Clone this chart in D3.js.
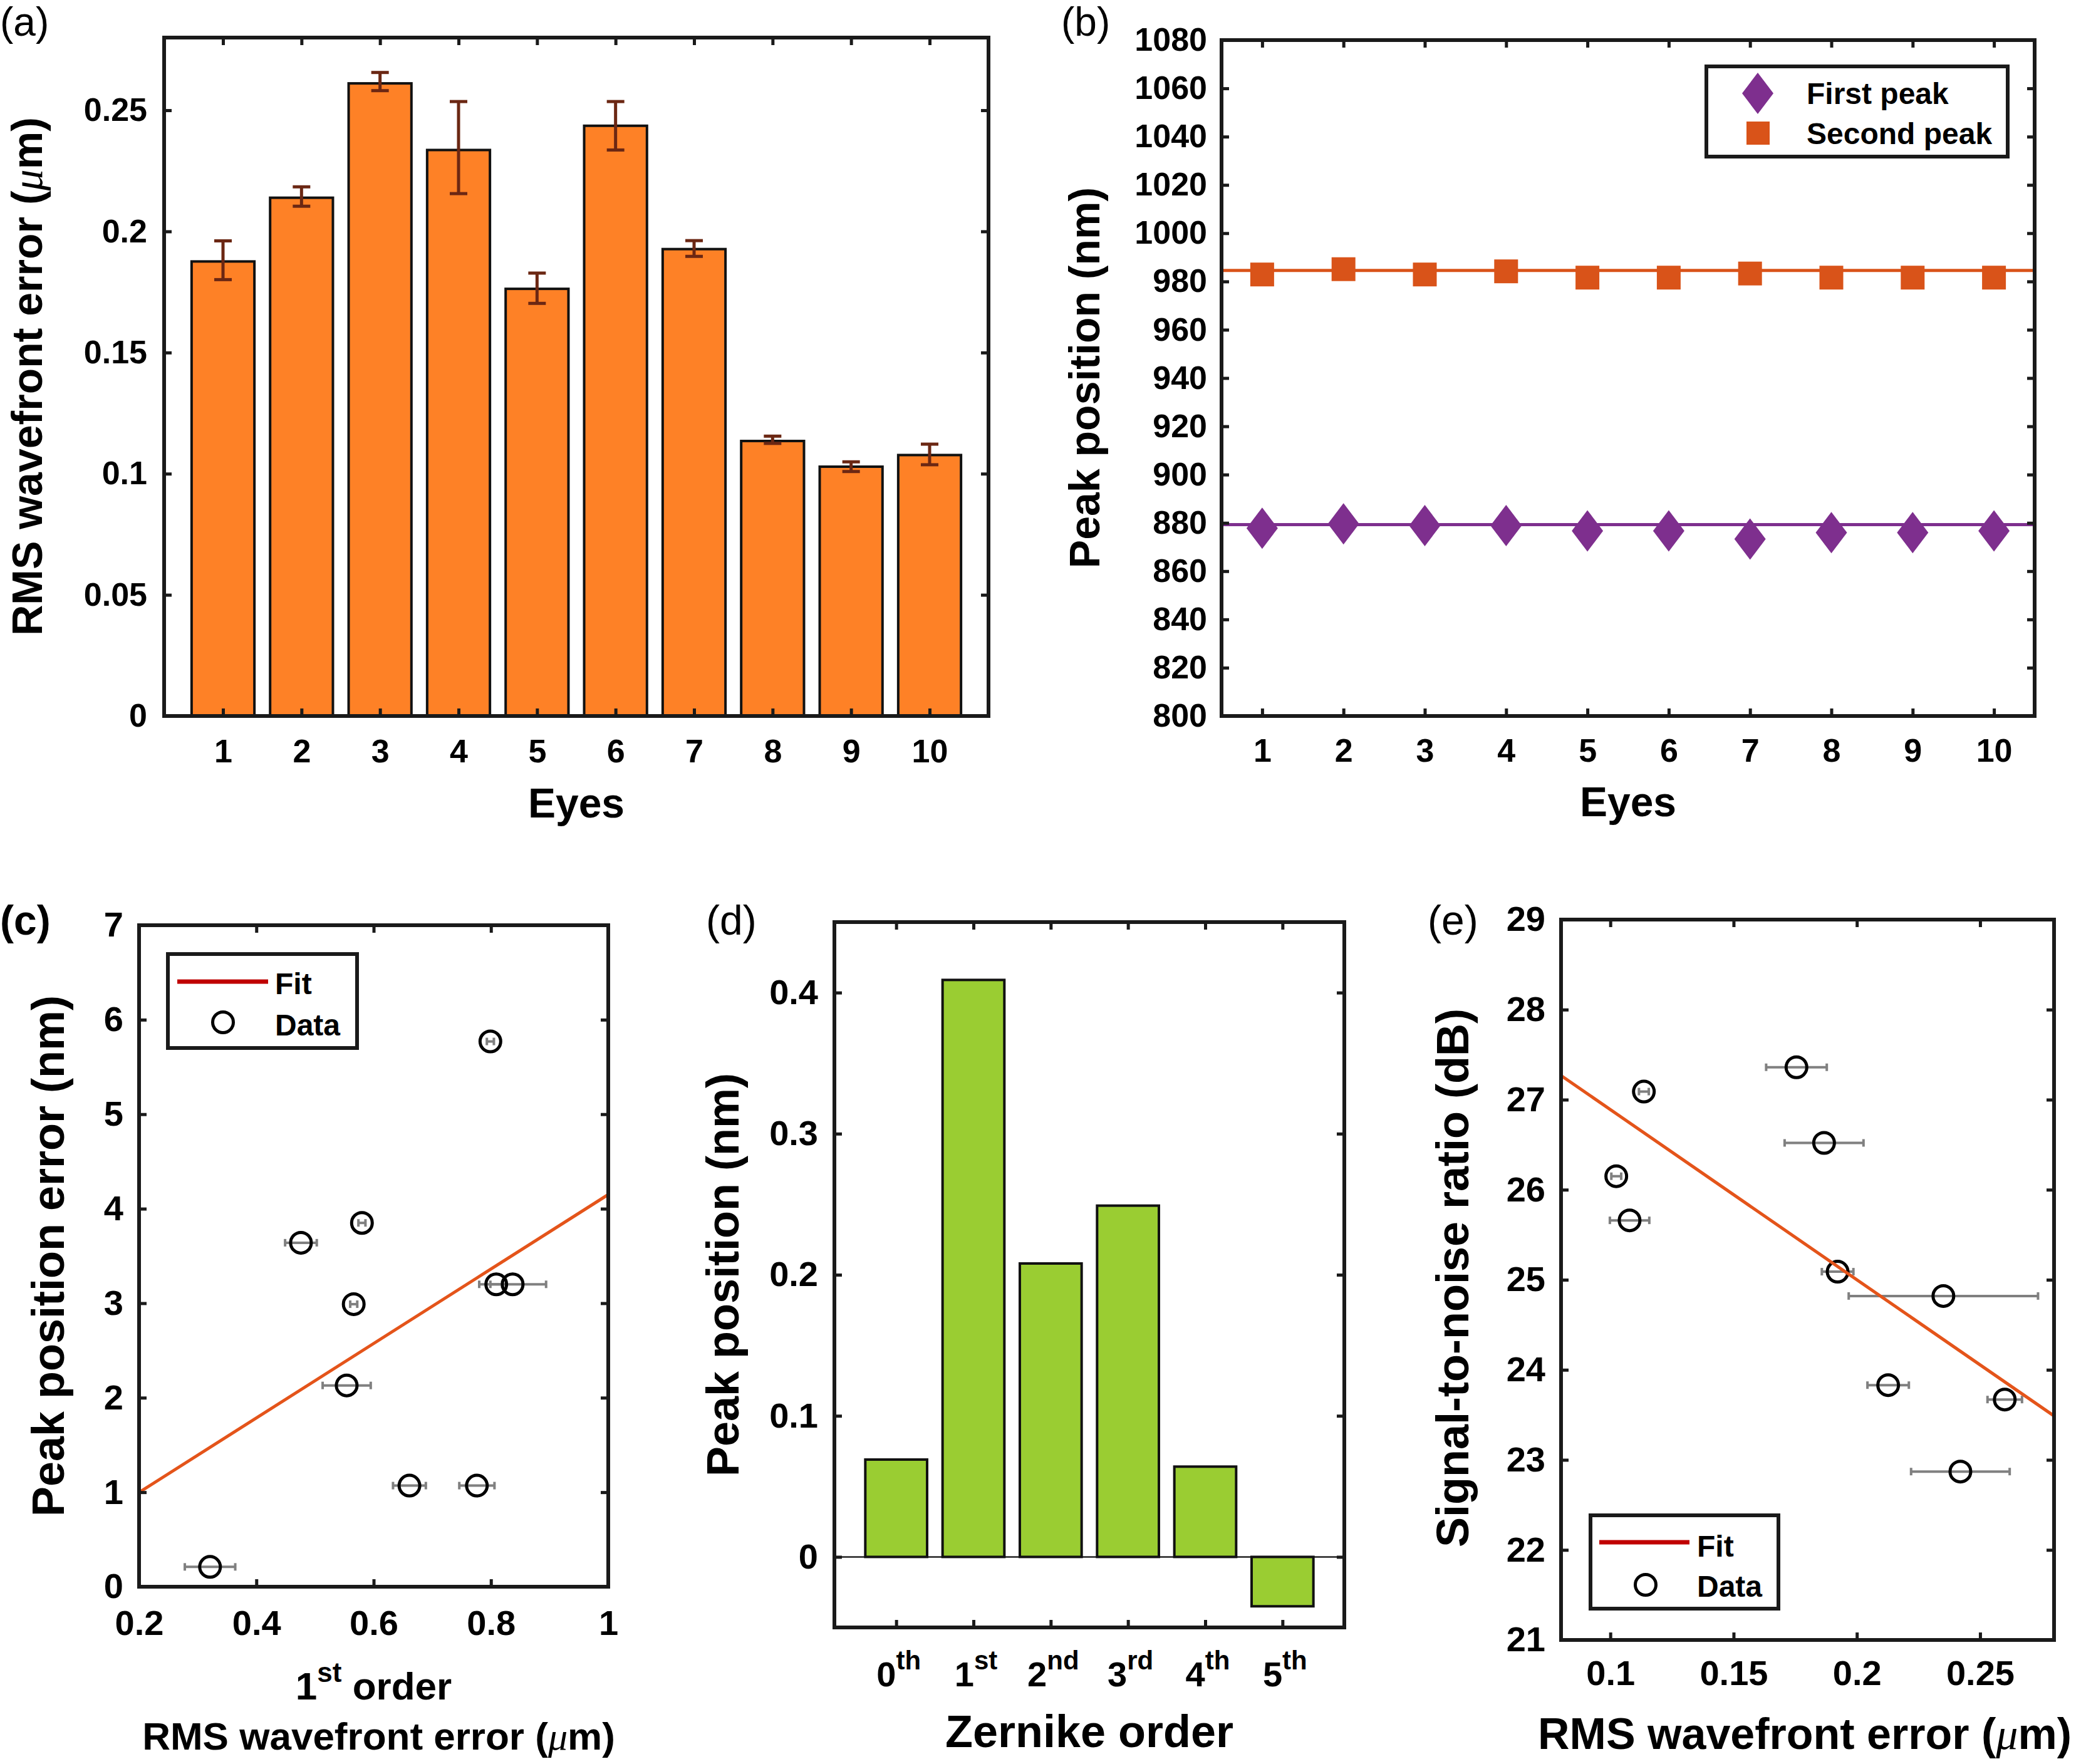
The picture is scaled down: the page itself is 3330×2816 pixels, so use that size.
<!DOCTYPE html>
<html><head><meta charset="utf-8">
<script src="https://cdn.jsdelivr.net/npm/d3@7"></script>
<style>body{margin:0;background:#fff}</style>
</head><body>
<svg id="c" width="3330" height="2816" xmlns="http://www.w3.org/2000/svg"></svg>
<script>
// ---------------- DATA ----------------
// (a)
const eyes = [1,2,3,4,5,6,7,8,9,10];
const rmsError = [0.1876,0.2139,0.2611,0.2336,0.1763,0.2436,0.1927,0.1135,0.1029,0.1077];
const rmsErrPlus = [0.0085,0.0045,0.0045,0.0200,0.0065,0.0100,0.0035,0.0020,0.0020,0.0045];
const rmsErrMinus = [0.0075,0.0035,0.0030,0.0180,0.0060,0.0100,0.0030,0.0010,0.0020,0.0040];
const aYTicks = [0,0.05,0.1,0.15,0.2,0.25];
// (b)
const firstPeak = [877.8,879.6,878.9,878.9,876.7,876.7,873.3,876.0,876.0,876.7];
const secondPeak = [982.9,985.1,982.9,984.2,981.6,981.6,983.3,981.6,981.6,981.6];
const firstPeakLine = 879.3;
const secondPeakLine = 984.6;
const bYTicks = [800,820,840,860,880,900,920,940,960,980,1000,1020,1040,1060,1080];
const bLegend = ["First peak","Second peak"];
// (c)
const cX = [0.321,0.476,0.580,0.566,0.554,0.799,0.809,0.837,0.661,0.776];
const cXErr = [0.043,0.027,0.006,0.006,0.041,0.006,0.010,0.057,0.028,0.030];
const cY = [0.21,3.64,3.85,2.99,2.13,5.77,3.20,3.20,1.07,1.07];
const cFitSlope = 3.94, cFitIntercept = 0.21;
const cXTicks = [0.2,0.4,0.6,0.8,1];
const cYTicks = [0,1,2,3,4,5,6,7];
// (d)
const zernikeOrder = ["0","1","2","3","4","5"];
const zernikeSuffix = ["th","st","nd","rd","th","th"];
const zernikeValue = [0.069,0.409,0.208,0.249,0.064,-0.035];
const dYTicks = [0,0.1,0.2,0.3,0.4];
// (e)
const eX = [0.1867,0.2127,0.2600,0.2351,0.1755,0.2420,0.1922,0.1136,0.1024,0.1078];
const eXErr = [0.016,0.0084,0.007,0.0384,0.0123,0.020,0.0064,0.002,0.002,0.008];
const eY = [26.52,23.83,23.67,24.82,27.36,22.87,25.09,27.09,26.15,25.66];
const eFitSlope = -18.9, eFitIntercept = 28.78;
const eXTicks = [0.1,0.15,0.2,0.25];
const eYTicks = [21,22,23,24,25,26,27,28,29];
const fitLegendLabels = ["Fit","Data"];

// ---------------- HELPERS ----------------
const FONT = '"Liberation Sans", Arial, Helvetica, sans-serif';
const SERIF = '"Liberation Serif", "Times New Roman", serif';
const svg = d3.select("#c");
svg.append("rect").attr("width",3330).attr("height",2816).attr("fill","#fff");
const TL = 12;

function panel(L,T,R,B,id){
  const g = svg.append("g").attr("transform",`translate(${L},${T})`);
  g.append("clipPath").attr("id",id).append("rect").attr("width",R-L).attr("height",B-T);
  return {g, W:R-L, H:B-T};
}
function txt(g, x, y, s, fs, opts={}){
  return g.append("text").attr("x",x).attr("y",y).text(s)
    .attr("font-family",FONT).attr("font-weight",opts.weight||"bold")
    .attr("font-size",fs).attr("text-anchor",opts.anchor||"middle").attr("fill","#000");
}
function addAxes(g,x,y,W,H,o){
  const b = g.append("g").attr("transform",`translate(0,${H})`)
    .call(d3.axisBottom(x).tickValues(o.xTicks).tickSizeInner(-TL).tickSizeOuter(0).tickPadding(o.xPad).tickFormat(o.xFmt||(d=>String(d))));
  const t = g.append("g")
    .call(d3.axisTop(x).tickValues(o.xTicks).tickSizeInner(-TL).tickSizeOuter(0).tickFormat(""));
  const l = g.append("g")
    .call(d3.axisLeft(y).tickValues(o.yTicks).tickSizeInner(-TL).tickSizeOuter(0).tickPadding(o.yPad).tickFormat(d=>String(d)));
  const r = g.append("g").attr("transform",`translate(${W},0)`)
    .call(d3.axisRight(y).tickValues(o.yTicks).tickSizeInner(-TL).tickSizeOuter(0).tickFormat(""));
  [b,t,l,r].forEach(a=>{
    a.select(".domain").remove();
    a.selectAll(".tick line").attr("stroke","#1a1a1a").attr("stroke-width",5);
    a.selectAll("text").attr("font-family",FONT).attr("font-weight","bold").attr("font-size",o.fs).attr("fill","#000");
  });
}
function frame(g,W,H){
  g.append("rect").attr("width",W).attr("height",H).attr("fill","none").attr("stroke","#1a1a1a").attr("stroke-width",6);
}
function yLabel(g, x, y, parts, fs){
  const t = g.append("text").attr("transform",`translate(${x},${y}) rotate(-90)`)
    .attr("text-anchor","middle").attr("font-family",FONT).attr("font-weight","bold").attr("font-size",fs).attr("fill","#000");
  parts.forEach(p=>{ const s=t.append("tspan").text(p.t); if(p.mu){s.attr("font-family",SERIF).attr("font-style","italic").attr("font-weight","normal");} });
  return t;
}
function xLabel(g, x, y, parts, fs){
  const t = g.append("text").attr("x",x).attr("y",y)
    .attr("text-anchor","middle").attr("font-family",FONT).attr("font-weight","bold").attr("font-size",fs).attr("fill","#000");
  parts.forEach(p=>{ const s=t.append("tspan").text(p.t); if(p.mu){s.attr("font-family",SERIF).attr("font-style","italic").attr("font-weight","normal");} });
  return t;
}
const RMS = [{t:"RMS wavefront error ("},{t:"\u03bc",mu:true},{t:"m)"}];

// ---------------- PANEL (a) ----------------
{
  const {g,W,H} = panel(262,60,1578,1143,"ca");
  const x = d3.scaleLinear().domain([0.25,10.75]).range([0,W]);
  const y = d3.scaleLinear().domain([0,0.28]).range([H,0]);
  const bw = x(1.8)-x(1);
  g.selectAll(".bar").data(eyes).enter().append("rect")
    .attr("x",(d)=>x(d)-bw/2).attr("width",bw)
    .attr("y",(d,i)=>y(rmsError[i])).attr("height",(d,i)=>y(0)-y(rmsError[i]))
    .attr("fill","#fe8126").attr("stroke","#111").attr("stroke-width",4);
  const eb = g.selectAll(".eb").data(eyes).enter().append("g");
  eb.append("line").attr("x1",d=>x(d)).attr("x2",d=>x(d))
    .attr("y1",(d,i)=>y(rmsError[i]-rmsErrMinus[i])).attr("y2",(d,i)=>y(rmsError[i]+rmsErrPlus[i]))
    .attr("stroke","#6b2713").attr("stroke-width",5);
  [-1,1].forEach(s=>{
    eb.append("line").attr("x1",d=>x(d)-14).attr("x2",d=>x(d)+14)
      .attr("y1",(d,i)=>y(rmsError[i]+(s>0?rmsErrPlus[i]:-rmsErrMinus[i])))
      .attr("y2",(d,i)=>y(rmsError[i]+(s>0?rmsErrPlus[i]:-rmsErrMinus[i])))
      .attr("stroke","#6b2713").attr("stroke-width",5);
  });
  addAxes(g,x,y,W,H,{xTicks:eyes,yTicks:aYTicks,xPad:37,yPad:27,fs:52});
  frame(g,W,H);
  txt(g,W/2,1305-60,"Eyes",66);
  yLabel(g,67-262,601-60,RMS,68);
  txt(svg,0,57,"(a)",64,{weight:"normal",anchor:"start"});
}

// ---------------- PANEL (b) ----------------
{
  const L=1950,T=64,R=3248,B=1143;
  const {g,W,H} = panel(L,T,R,B,"cb");
  const x = d3.scaleLinear().domain([0.5,10.5]).range([0,W]);
  const y = d3.scaleLinear().domain([800,1080]).range([H,0]);
  const purple="#7e2f8e", orange="#d95319";
  g.append("line").attr("x1",0).attr("x2",W).attr("y1",y(firstPeakLine)).attr("y2",y(firstPeakLine)).attr("stroke",purple).attr("stroke-width",5);
  g.append("line").attr("x1",0).attr("x2",W).attr("y1",y(secondPeakLine)).attr("y2",y(secondPeakLine)).attr("stroke",orange).attr("stroke-width",5);
  const diamond = "M0,-33L25,0L0,33L-25,0Z";
  g.selectAll(".fp").data(eyes).enter().append("path").attr("d",diamond)
    .attr("transform",(d,i)=>`translate(${x(d)},${y(firstPeak[i])})`).attr("fill",purple);
  g.selectAll(".sp").data(eyes).enter().append("rect")
    .attr("x",d=>x(d)-19).attr("y",(d,i)=>y(secondPeak[i])-19).attr("width",38).attr("height",38).attr("fill",orange);
  addAxes(g,x,y,W,H,{xTicks:eyes,yTicks:bYTicks,xPad:36,yPad:23,fs:52});
  const lg = svg.append("g");
  lg.append("rect").attr("x",2724).attr("y",106).attr("width",481).attr("height",144).attr("fill","#fff").attr("stroke","#1a1a1a").attr("stroke-width",6);
  lg.append("path").attr("d",diamond).attr("transform","translate(2806,149)").attr("fill",purple);
  lg.append("rect").attr("x",2788).attr("y",194).attr("width",37).attr("height",37).attr("fill",orange);
  txt(lg,2884,166,bLegend[0],48,{anchor:"start"});
  txt(lg,2884,230,bLegend[1],48,{anchor:"start"});
  frame(g,W,H);
  txt(g,W/2,1303-T,"Eyes",66);
  yLabel(g,1755-L,603-T,[{t:"Peak position (nm)"}],68);
  txt(svg,1694,57,"(b)",64,{weight:"normal",anchor:"start"});
}

// ---------------- PANELS (c),(e) helpers ----------------
function scatterPanel(g,x,y,X,Y,XE){
  const eb = g.selectAll(null).data(X).enter().append("g").attr("stroke","#808080").attr("stroke-width",4);
  eb.append("line").attr("x1",(d,i)=>x(d-XE[i])).attr("x2",(d,i)=>x(d+XE[i])).attr("y1",(d,i)=>y(Y[i])).attr("y2",(d,i)=>y(Y[i]));
  eb.append("line").attr("x1",(d,i)=>x(d-XE[i])).attr("x2",(d,i)=>x(d-XE[i])).attr("y1",(d,i)=>y(Y[i])-6).attr("y2",(d,i)=>y(Y[i])+6);
  eb.append("line").attr("x1",(d,i)=>x(d+XE[i])).attr("x2",(d,i)=>x(d+XE[i])).attr("y1",(d,i)=>y(Y[i])-6).attr("y2",(d,i)=>y(Y[i])+6);
  g.selectAll(null).data(X).enter().append("circle")
    .attr("cx",d=>x(d)).attr("cy",(d,i)=>y(Y[i])).attr("r",16.5)
    .attr("fill","none").attr("stroke","#000").attr("stroke-width",5);
}
function drawFitLegend(g,bx,by,bw,bh,lx1,lx2,ly,tx,t1y,t2y,cx,cy,fs){
  g.append("rect").attr("x",bx).attr("y",by).attr("width",bw).attr("height",bh).attr("fill","#fff").attr("stroke","#1a1a1a").attr("stroke-width",6);
  g.append("line").attr("x1",lx1).attr("x2",lx2).attr("y1",ly).attr("y2",ly).attr("stroke","#c00000").attr("stroke-width",7);
  g.append("circle").attr("cx",cx).attr("cy",cy).attr("r",16.5).attr("fill","none").attr("stroke","#000").attr("stroke-width",5);
  txt(g,tx,t1y,fitLegendLabels[0],fs,{anchor:"start"});
  txt(g,tx,t2y,fitLegendLabels[1],fs,{anchor:"start"});
}

// ---------------- PANEL (c) ----------------
{
  const L=222,T=1477,R=971,B=2533;
  const {g,W,H} = panel(L,T,R,B,"cc");
  const x = d3.scaleLinear().domain([0.2,1]).range([0,W]);
  const y = d3.scaleLinear().domain([0,7]).range([H,0]);
  scatterPanel(g,x,y,cX,cY,cXErr);
  const fx = x.domain();
  g.append("line").attr("clip-path","url(#cc)")
    .attr("x1",x(fx[0])).attr("y1",y(cFitIntercept+cFitSlope*fx[0]))
    .attr("x2",x(fx[1])).attr("y2",y(cFitIntercept+cFitSlope*fx[1]))
    .attr("stroke","#e4541a").attr("stroke-width",5);
  addAxes(g,x,y,W,H,{xTicks:cXTicks,yTicks:cYTicks,xPad:37,yPad:25,fs:56});
  drawFitLegend(svg,268,1523,302,150,283,428,1567,439,1587,1653,356,1632,48);
  frame(g,W,H);
  const t = g.append("text").attr("x",W/2).attr("y",2713-T).attr("text-anchor","middle")
    .attr("font-family",FONT).attr("font-weight","bold").attr("font-size",62);
  t.append("tspan").text("1");
  t.append("tspan").text("st").attr("font-size",44).attr("dy",-28);
  t.append("tspan").text(" order").attr("dy",28);
  xLabel(g,W/2+8,2793-T,RMS,62);
  yLabel(g,102-L,2005-T,[{t:"Peak position error (nm)"}],72);
  txt(svg,0,1492,"(c)",66,{anchor:"start"});
}

// ---------------- PANEL (d) ----------------
{
  const L=1332,T=1472,R=2146,B=2598;
  const {g,W,H} = panel(L,T,R,B,"cd");
  const x = d3.scaleLinear().domain([0.2,6.8]).range([0,W]);
  const y = d3.scaleLinear().domain([-0.05,0.45]).range([H,0]);
  const idx = zernikeValue.map((d,i)=>i+1);
  const bw = x(1.8)-x(1);
  g.append("line").attr("x1",0).attr("x2",W).attr("y1",y(0)).attr("y2",y(0)).attr("stroke","#222").attr("stroke-width",2.5);
  g.selectAll(null).data(zernikeValue).enter().append("rect")
    .attr("x",(d,i)=>x(i+1)-bw/2).attr("width",bw)
    .attr("y",d=>y(Math.max(0,d))).attr("height",d=>Math.abs(y(d)-y(0)))
    .attr("fill","#9acd32").attr("stroke","#111").attr("stroke-width",4);
  addAxes(g,x,y,W,H,{xTicks:idx,yTicks:dYTicks,xPad:30,yPad:26,fs:56,xFmt:()=>""});
  const lab = g.selectAll(null).data(zernikeOrder).enter().append("text")
    .attr("x",(d,i)=>x(i+1)+4).attr("y",2692-T).attr("text-anchor","middle")
    .attr("font-family",FONT).attr("font-weight","bold").attr("font-size",56).attr("fill","#000");
  lab.append("tspan").text(d=>d);
  lab.append("tspan").text((d,i)=>zernikeSuffix[i]).attr("font-size",42).attr("dy",-27);
  frame(g,W,H);
  txt(g,W/2,2789-T,"Zernike order",72);
  yLabel(g,1179-L,2035-T,[{t:"Peak position (nm)"}],72);
  txt(svg,1127,1492,"(d)",66,{weight:"normal",anchor:"start"});
}

// ---------------- PANEL (e) ----------------
{
  const L=2492,T=1468,R=3279,B=2618;
  const {g,W,H} = panel(L,T,R,B,"ce");
  const x = d3.scaleLinear().domain([0.08,0.28]).range([0,W]);
  const y = d3.scaleLinear().domain([21,29]).range([H,0]);
  scatterPanel(g,x,y,eX,eY,eXErr);
  const fx = x.domain();
  g.append("line").attr("clip-path","url(#ce)")
    .attr("x1",x(fx[0])).attr("y1",y(eFitIntercept+eFitSlope*fx[0]))
    .attr("x2",x(fx[1])).attr("y2",y(eFitIntercept+eFitSlope*fx[1]))
    .attr("stroke","#e4541a").attr("stroke-width",5);
  addAxes(g,x,y,W,H,{xTicks:eXTicks,yTicks:eYTicks,xPad:32,yPad:25,fs:56});
  drawFitLegend(svg,2539,2419,300,149,2553,2697,2462,2709,2485,2549,2627,2530,48);
  frame(g,W,H);
  xLabel(g,2881-L,2792-T,RMS,70);
  yLabel(g,2344-L,2040-T,[{t:"Signal-to-noise ratio (dB)"}],72);
  txt(svg,2279,1492,"(e)",66,{weight:"normal",anchor:"start"});
}
</script>
</body></html>
